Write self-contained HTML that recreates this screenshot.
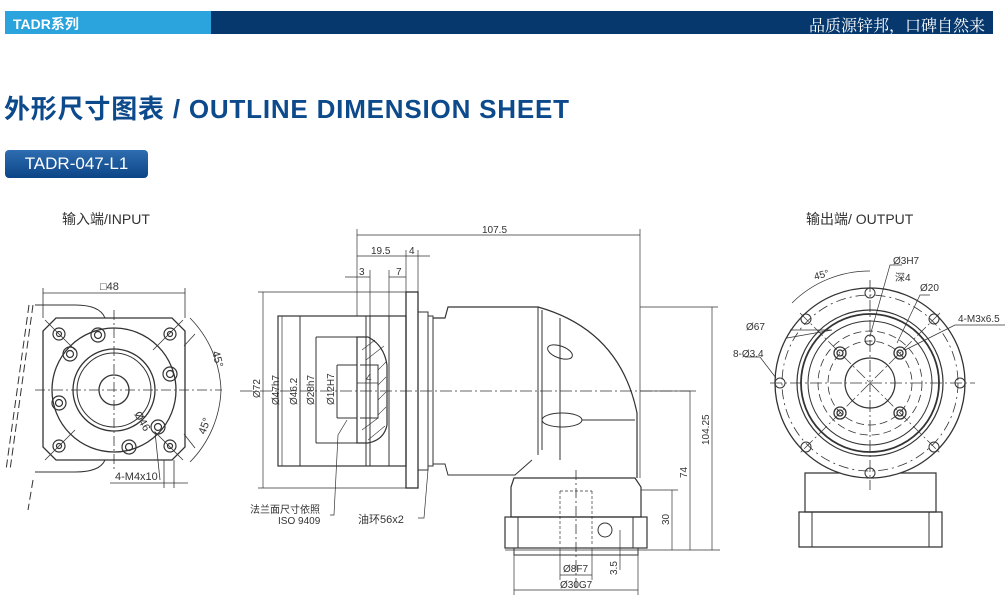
<!DOCTYPE html>
<html><head><meta charset="utf-8">
<style>
html,body{margin:0;padding:0;background:#fff;}
body{width:1008px;height:613px;position:relative;overflow:hidden;font-family:"Liberation Sans","Noto Sans CJK SC",sans-serif;}
.bar{position:absolute;left:5px;top:11px;width:988px;height:23px;background:#06386e;}
.bar .lb{position:absolute;left:0;top:0;width:206px;height:23px;background:#2ba3dc;}
.bar .t1{position:absolute;left:8px;top:3px;color:#fff;font-size:14px;font-weight:bold;}
.bar .t2{position:absolute;right:8px;top:2px;color:#fff;font-size:16px;font-family:"Noto Serif CJK SC","Noto Sans CJK SC",serif;}
.title{position:absolute;left:4px;top:89px;font-size:26px;font-weight:bold;color:#0d4a8c;letter-spacing:0.8px;}
.btn{position:absolute;left:5px;top:150px;width:143px;height:28px;background:linear-gradient(#2e6db0,#0b4587);border-radius:4px;color:#fff;font-size:17px;line-height:28px;text-align:center;}
svg{position:absolute;left:0;top:0;}
</style></head><body>
<div class="bar"><div class="lb"></div><div class="t1">TADR系列</div><div class="t2">品质源锌邦，口碑自然来</div></div>
<div class="title">外形尺寸图表 / OUTLINE DIMENSION SHEET</div>
<div class="btn">TADR-047-L1</div>
<svg width="1008" height="613" viewBox="0 0 1008 613" font-family="Liberation Sans, Noto Sans CJK SC, sans-serif" fill="none" stroke="#333" stroke-width="1">
<text x="62" y="224" font-size="14" fill="#333" stroke="none">输入端/INPUT</text>
<text x="806" y="224" font-size="14" fill="#333" stroke="none">输出端/ OUTPUT</text>

<!-- INPUT VIEW -->
<g stroke-width="1">
<path d="M56 318 H172 L185 331 V447 L172 460 H56 L43 447 V331 Z" stroke-width="1.3"/>
<path d="M35 305 H75 Q100 305 105 318" /><path d="M35 472 H75 Q100 472 105 460"/>
<path d="M33 305 L10 470 M29 305 L6 470 M33 480 L28 510" stroke-dasharray="8 4"/>
<circle cx="114" cy="390" r="62" stroke-width="1.3"/>
<circle cx="114" cy="390" r="41" stroke-width="1.3"/>
<circle cx="114" cy="390" r="37"/>
<circle cx="114" cy="390" r="15" stroke-width="1.3"/>
<path d="M35 390 H222 M114 310 V470" stroke-dasharray="10 3 2 3" stroke-width="0.8"/>
<g stroke-width="0.8"><path d="M45 320 L75 350 M183 320 L153 350 M45 460 L75 430 M183 460 L155 432 L160 480"/></g>
<g stroke-width="1.2">
<circle cx="59" cy="334" r="6"/><circle cx="59" cy="334" r="2.5"/>
<circle cx="170" cy="334" r="6"/><circle cx="170" cy="334" r="2.5"/>
<circle cx="59" cy="446" r="6"/><circle cx="59" cy="446" r="2.5"/>
<circle cx="170" cy="446" r="6"/><circle cx="170" cy="446" r="2.5"/>
<circle cx="98" cy="335" r="7"/><circle cx="98" cy="335" r="3.5"/>
<circle cx="70" cy="354" r="7"/><circle cx="70" cy="354" r="3.5"/>
<circle cx="170" cy="374" r="7"/><circle cx="170" cy="374" r="3.5"/>
<circle cx="59" cy="403" r="7"/><circle cx="59" cy="403" r="3.5"/>
<circle cx="158" cy="427" r="7"/><circle cx="158" cy="427" r="3.5"/>
<circle cx="129" cy="447" r="7"/><circle cx="129" cy="447" r="3.5"/>
</g>
<g stroke-width="0.8">
<path d="M43 293 H185 M43 288 V318 M185 288 V318"/>
<path d="M190 318 A108 108 0 0 1 221 390 A108 108 0 0 1 190 462"/>
<path d="M184 346 L195 334 M184 434 L195 448"/>
<path d="M110 483 H188 M164 460 V488 M174 460 V488"/>
</g>
<text x="100" y="290" font-size="11" fill="#333" stroke="none">□48</text>
<text x="115" y="480" font-size="11" fill="#333" stroke="none">4-M4x10</text>
<text x="0" y="0" font-size="11" fill="#333" stroke="none" transform="translate(212,352) rotate(75)">45°</text>
<text x="0" y="0" font-size="11" fill="#333" stroke="none" transform="translate(205,435) rotate(-70)">45°</text>
<text x="0" y="0" font-size="11" fill="#333" stroke="none" transform="translate(134,414) rotate(60)">Ø46</text>
</g>

<!-- SIDE VIEW -->
<g>
<path d="M240 391 H690" stroke-dasharray="12 3 2 3" stroke-width="0.8"/>
<rect x="406" y="292" width="12" height="196" stroke-width="1.3"/>
<rect x="278" y="316" width="128" height="150" stroke-width="1.2"/>
<rect x="300" y="316" width="89" height="150"/>
<path d="M366 316 V466 M370 316 V466"/>
<path d="M316 337 H357 M316 443 H357 M316 337 V443"/>
<path d="M337 365 H357 M337 418 H357 M337 365 V418"/>
<path d="M357 337 H368 Q384 345 387 365 V425 Q384 440 368 443 H357 Z" stroke-width="1.2"/>
<path d="M360 365 H378 V418 H360" stroke-width="1"/>
<g stroke-width="0.6"><path d="M362 350 L375 340 M366 360 L384 346 M378 370 L386 362 M378 385 L386 377 M378 400 L386 392 M378 415 L386 407 M362 430 L378 418 M368 440 L385 426"/></g>
<rect x="418" y="312" width="10" height="158"/>
<rect x="428" y="316" width="5" height="150"/>
<path d="M433 318 H445 L448 307 H538 Q620 330 637 413 V478" stroke-width="1.2"/>
<path d="M433 464 H445 L448 475 H515 L532 460"/>
<path d="M538 307 V455 M542 310 V450 M560 318 V460"/>
<ellipse cx="560" cy="352" rx="13" ry="6" transform="rotate(20 560 352)"/>
<ellipse cx="562" cy="420" rx="20" ry="7"/>
<path d="M582 420 H635"/>
<path d="M511 487 L514 478 H635 L641 487 V517 H511 Z" stroke-width="1.2"/>
<rect x="505" y="517" width="142" height="31" stroke-width="1.2"/>
<rect x="514" y="548" width="124" height="7"/>
<path d="M518 517 V548 M633 517 V548"/>
<path d="M560 491 V545 M592 491 V545 M560 491 H592" stroke-dasharray="3 2" stroke-width="0.7"/>
<circle cx="605" cy="530" r="7"/>
<path d="M576 470 V590" stroke-dasharray="10 3 2 3" stroke-width="0.8"/>
<g stroke-width="0.7">
<path d="M357 235 H640 M357 229 V316 M640 229 V478"/>
<path d="M357 256 H430 M406 250 V292 M418 250 V292"/>
<path d="M345 277 H370 M389 277 H406 M370 270 V316 M389 270 V316"/>
<path d="M263 292 V488 M258 292 H406 M258 488 H406"/>
<path d="M282 316 V466 M300 316 V466 M316 337 V443 M337 365 V418"/>
<path d="M357 383 H378"/>
<path d="M712 307 V550 M640 307 H718"/>
<path d="M690 391 V550 M640 391 H696"/>
<path d="M672 490 V550 M641 490 H678"/>
<path d="M505 550 H720"/>
<path d="M560 575 H592 M560 548 V580 M592 548 V580"/>
<path d="M514 590 H638 M514 555 V595 M638 555 V595"/>
<path d="M620 530 V570"/>
<path d="M347 420 L338 435 L334 515 H330"/>
<path d="M428 470 L424 518 H418"/>
</g>
<g font-size="10" fill="#333" stroke="none">
<text x="482" y="233">107.5</text>
<text x="371" y="254">19.5</text>
<text x="409" y="254">4</text>
<text x="359" y="275">3</text>
<text x="396" y="275">7</text>
<text x="366" y="381">4</text>
<text transform="translate(260,398) rotate(-90)">Ø72</text>
<text transform="translate(279,405) rotate(-90)">Ø47h7</text>
<text transform="translate(297,405) rotate(-90)">Ø46.2</text>
<text transform="translate(314,405) rotate(-90)">Ø28h7</text>
<text transform="translate(334,405) rotate(-90)">Ø12H7</text>
<text transform="translate(709,445) rotate(-90)">104.25</text>
<text transform="translate(687,478) rotate(-90)">74</text>
<text transform="translate(669,525) rotate(-90)">30</text>
<text transform="translate(617,575) rotate(-90)">3.5</text>
<text x="563" y="572">Ø8F7</text>
<text x="560" y="588">Ø30G7</text>
<text x="250" y="513">法兰面尺寸依照</text>
<text x="278" y="524">ISO 9409</text>
<text x="358" y="523" font-size="11">油环56x2</text>
</g>
</g>

<!-- OUTPUT VIEW -->
<g>
<path d="M805 473 H936 V512 H805 Z" stroke-width="1.2"/>
<path d="M799 512 H942 V547 H799 Z" stroke-width="1.2"/>
<path d="M812 512 V547 M929 512 V547"/>
<circle cx="870" cy="383" r="95" fill="#fff" stroke-width="1.3"/>
<circle cx="870" cy="383" r="88" stroke-dasharray="10 4 2 4" stroke-width="0.8"/>
<circle cx="870" cy="383" r="73" stroke-width="1.2"/>
<circle cx="870" cy="383" r="69" stroke-width="1.8"/>
<circle cx="870" cy="383" r="62" stroke-width="1"/>
<circle cx="870" cy="383" r="52" stroke-dasharray="8 4" stroke-width="0.8"/>
<circle cx="870" cy="383" r="42" stroke-dasharray="8 4" stroke-width="0.8"/>
<circle cx="870" cy="383" r="25" stroke-width="1.2"/>
<path d="M770 383 H975 M870 280 V490" stroke-dasharray="12 3 2 3" stroke-width="0.8"/>
<path d="M800 313 L940 453 M940 313 L800 453" stroke-dasharray="12 3 2 3" stroke-width="0.7"/>
<g stroke-width="1">
<circle cx="870" cy="293" r="5"/><circle cx="870" cy="473" r="5"/>
<circle cx="780" cy="383" r="5"/><circle cx="960" cy="383" r="5"/>
<circle cx="806" cy="319" r="5"/><circle cx="934" cy="319" r="5"/>
<circle cx="806" cy="447" r="5"/><circle cx="934" cy="447" r="5"/>
<circle cx="870" cy="340" r="5"/>
</g>
<g stroke-width="1.3">
<circle cx="840" cy="353" r="6"/><circle cx="840" cy="353" r="3"/>
<circle cx="900" cy="353" r="6"/><circle cx="900" cy="353" r="3"/>
<circle cx="840" cy="413" r="6"/><circle cx="840" cy="413" r="3"/>
<circle cx="900" cy="413" r="6"/><circle cx="900" cy="413" r="3"/>
</g>
<g stroke-width="0.7">
<path d="M792 303 A110 110 0 0 1 870 271"/>
<path d="M870 336 L890 265 H902"/>
<path d="M897 343 L920 295 H930"/>
<path d="M905 350 L955 325 H1005"/>
<path d="M790 330 H832 L787 338" />
<path d="M745 357 H760 L776 378"/>
</g>
<g font-size="10" fill="#333" stroke="none">
<text x="893" y="264">Ø3H7</text>
<text x="895" y="281">深4</text>
<text x="920" y="291">Ø20</text>
<text x="958" y="322">4-M3x6.5</text>
<text x="746" y="330">Ø67</text>
<text x="733" y="357">8-Ø3.4</text>
<text transform="translate(815,280) rotate(-15)">45°</text>
</g>
</g>
</svg>
</body></html>
